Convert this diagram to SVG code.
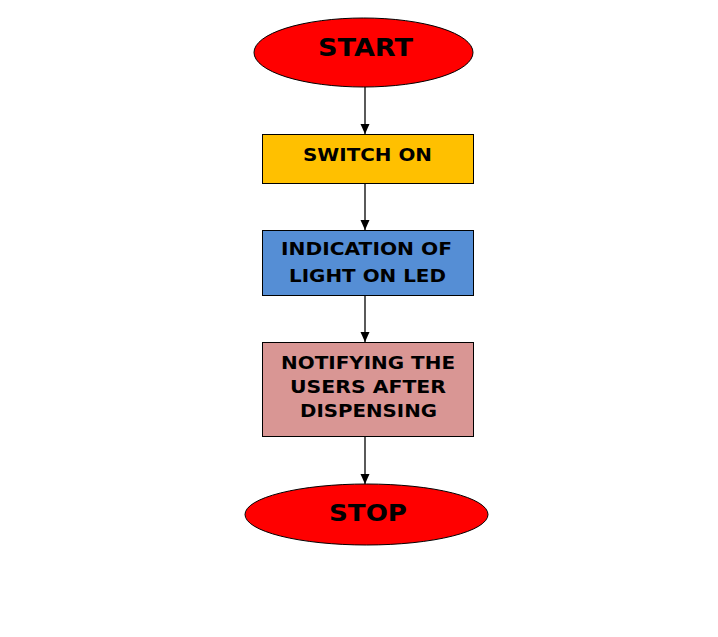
<svg xmlns="http://www.w3.org/2000/svg" width="718" height="637" viewBox="0 0 718 637">
<defs>
<marker id="ah" markerWidth="10" markerHeight="10" refX="10" refY="5" orient="auto" markerUnits="userSpaceOnUse">
<path d="M0,0.5 L10,5 L0,9.5 Z" fill="#000"/>
</marker>
<style>
.n{stroke:#000;stroke-width:1}
.t{font-family:"DejaVu Sans",sans-serif;font-weight:bold;text-anchor:middle;fill:#000}
.c{stroke:#000;stroke-width:1.3;fill:none;marker-end:url(#ah)}
</style>
</defs>
<rect width="718" height="637" fill="#fff"/>
<g id="connectors">
<line class="c" x1="365" y1="87" x2="365" y2="134"/>
<line class="c" x1="365" y1="183" x2="365" y2="230"/>
<line class="c" x1="365" y1="295" x2="365" y2="342"/>
<line class="c" x1="365" y1="436" x2="365" y2="484"/>
</g>
<g id="start">
<ellipse class="n" cx="363.5" cy="52.5" rx="109.5" ry="34.5" fill="#FF0000"/>
<text class="t" x="365.5" y="56" font-size="24" textLength="95" lengthAdjust="spacingAndGlyphs">START</text>
</g>
<g id="switch-on">
<rect class="n" x="262.5" y="134.5" width="211" height="49" fill="#FFC000"/>
<text class="t" x="367.5" y="160.5" font-size="17.5" textLength="129" lengthAdjust="spacingAndGlyphs">SWITCH ON</text>
</g>
<g id="indication">
<rect class="n" x="262.5" y="230.5" width="211" height="65" fill="#558ED5"/>
<text class="t" x="366.5" y="255" font-size="17.5" textLength="171" lengthAdjust="spacingAndGlyphs">INDICATION OF</text>
<text class="t" x="367.5" y="281.5" font-size="17.5" textLength="157" lengthAdjust="spacingAndGlyphs">LIGHT ON LED</text>
</g>
<g id="notifying">
<rect class="n" x="262.5" y="342.5" width="211" height="94" fill="#D99694"/>
<text class="t" x="368" y="368.5" font-size="17.5" textLength="174" lengthAdjust="spacingAndGlyphs">NOTIFYING THE</text>
<text class="t" x="368" y="392.5" font-size="17.5" textLength="156" lengthAdjust="spacingAndGlyphs">USERS AFTER</text>
<text class="t" x="368.5" y="416.5" font-size="17.5" textLength="137" lengthAdjust="spacingAndGlyphs">DISPENSING</text>
</g>
<g id="stop">
<ellipse class="n" cx="366.5" cy="514.5" rx="121.5" ry="30.5" fill="#FF0000"/>
<text class="t" x="368" y="521" font-size="23" textLength="78" lengthAdjust="spacingAndGlyphs">STOP</text>
</g>
</svg>
